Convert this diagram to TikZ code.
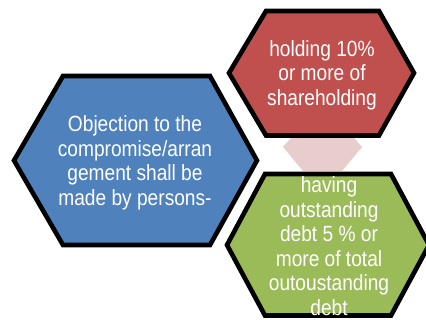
\documentclass[tikz,border=0pt]{standalone}
\usepackage{fontspec}
\setmainfont{Liberation Sans}
\newfontfamily\hexfont[FakeStretch=0.87]{Liberation Sans}
\definecolor{hexblue}{HTML}{4F81BD}
\definecolor{hexred}{HTML}{C0504D}
\definecolor{hexgreen}{HTML}{9BBB59}
\definecolor{hexpink}{HTML}{E8CDCD}
\tikzset{
  hexshape/.style={draw=black, line width=4.6pt, line join=miter},
  hextext/.style={text=white, align=center, font=\hexfont\fontsize{22}{24.5}\selectfont, inner sep=0pt}
}
\begin{document}
\begin{tikzpicture}[x=1pt,y=-1pt]
\useasboundingbox (0,0) rectangle (426,320);
\clip (0,0) rectangle (426,320);
\fill[white] (0,0) rectangle (426,320);
% faint pink connector hexagon
\fill[hexpink] (283,147) -- (303,124) -- (342,124) -- (362,147) -- (342,171) -- (303,171) -- cycle;
% blue
\filldraw[hexshape, fill=hexblue] (14,160.5) -- (63,76) -- (210,76) -- (257,160.5) -- (210,245) -- (63,245) -- cycle;
% red
\filldraw[hexshape, fill=hexred] (229,73) -- (266,11) -- (379,11) -- (414,73) -- (379,135.5) -- (266,135.5) -- cycle;
% green
\filldraw[hexshape, fill=hexgreen] (227,245) -- (265,174) -- (391,174) -- (429,245) -- (391,315.5) -- (265,315.5) -- cycle;
\node[hextext] (blue) at (135,163) {Objection to the\\compromise/arran\\gement shall be\\made by persons-};
\node[hextext] (red) at (322,75) {holding 10\%\\or more of\\shareholding};
\node[hextext] (green) at (329,246) {having\\outstanding\\debt 5 \% or\\more of total\\outoustanding\\debt};
\end{tikzpicture}
\end{document}
